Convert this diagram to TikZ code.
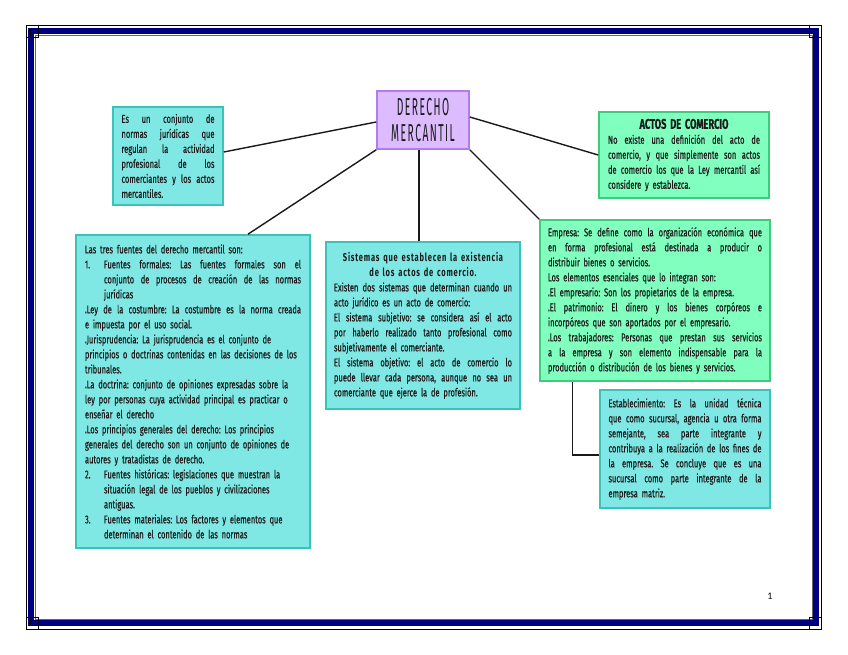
\documentclass[tikz,border=0pt]{standalone}
\usepackage{fontspec}
\setmainfont{Fira Sans}[FakeStretch=0.66,FakeBold=0.4]
\newfontfamily\titlefont{Fira Sans}[FakeStretch=0.42,LetterSpace=6]
\newfontfamily\spacedbold{Fira Sans}[FakeStretch=0.66,LetterSpace=7]
\newfontfamily\pagefont{Carlito}
\definecolor{cyanfill}{HTML}{80E8E4}
\definecolor{cyanline}{HTML}{3CC2B8}
\definecolor{greenfill}{HTML}{80FFBF}
\definecolor{greenline}{HTML}{3ECC7C}
\definecolor{lavfill}{HTML}{DDBBFF}
\definecolor{lavline}{HTML}{B27CF0}
\definecolor{navyband}{HTML}{000080}
\definecolor{txt}{HTML}{1A1A1A}
\frenchspacing
\newcommand\fillsp{\spaceskip=.22em plus 1fil\xspaceskip=.22em plus 1fil\relax}
\newcommand\J[1]{\leavevmode\hbox to\linewidth{\fillsp #1}}
\newcommand\Lf[1]{\leavevmode\hbox to\linewidth{#1\hfil}}
\newcommand\Cn[1]{\leavevmode\hbox to\linewidth{\hfil#1\hfil}}
\newcommand\dotb{\raisebox{-0.3ex}{\footnotesize\textbullet}}
\newcommand\ItemJ[2]{\leavevmode\hbox to 19pt{#1\hfil}\hbox to\dimexpr\linewidth-19pt\relax{\fillsp #2}}
\newcommand\ItemL[2]{\leavevmode\hbox to 19pt{#1\hfil}\hbox to\dimexpr\linewidth-19pt\relax{#2\hfil}}
\newcommand\ContJ[1]{\leavevmode\hspace*{19pt}\hbox to\dimexpr\linewidth-19pt\relax{\fillsp #1}}
\newcommand\ContL[1]{\leavevmode\hspace*{19pt}\hbox to\dimexpr\linewidth-19pt\relax{#1\hfil}}
\tikzset{
  box/.style={draw, line width=1.6pt, text=txt, inner sep=0pt, anchor=center,
    font=\fontsize{11.4}{15}\selectfont},
  cyanbox/.style={box, fill=cyanfill, draw=cyanline},
  greenbox/.style={box, fill=greenfill, draw=greenline},
  conn/.style={draw=black!90, line width=1.4pt},
}
\begin{document}
\begin{tikzpicture}[x=1pt,y=-1pt]
\useasboundingbox[fill=white] (0,0) rectangle (848,655);
% page frame
\draw[navyband, line width=6pt] (31,31) rectangle (816,623);
\draw[black, line width=0.6pt] (26,25) rectangle (821,629);
\draw[black!60, line width=0.4pt] (35,35) rectangle (812,619);
\foreach \cx/\cy/\sx/\sy in {26/25/1/1, 821/25/-1/1, 26/629/1/-1, 821/629/-1/-1}{
  \draw[black, line width=0.6pt] (\cx,\cy) rectangle ++(12*\sx,12*\sy);
  \draw[black, line width=0.6pt] (\cx+4*\sx,\cy+4*\sy) rectangle ++(8*\sx,8*\sy);
}
\node[font=\pagefont\fontsize{10}{12}\selectfont] (pg) at (770,596) {1};

% central node
\node[box, fill=lavfill, draw=lavline, minimum width=92pt, minimum height=58pt,
  align=center, font=\titlefont\fontsize{24.5}{26.5}\selectfont] (c) at (423,120)
  {DERECHO\\MERCANTIL};

% box 1
\node[cyanbox, minimum width=110pt, minimum height=98pt, text width=93pt] (b1) at (168,156)
{\J{Es un conjunto de}\\
\J{normas jurídicas que}\\
\J{regulan la actividad}\\
\J{profesional de los}\\
\J{comerciantes y los actos}\\
\Lf{mercantiles.}};

% actos de comercio
\node[greenbox, minimum width=170pt, minimum height=86pt, text width=152pt] (ac) at (684,155)
{\Cn{\fontsize{14}{15}\selectfont\bfseries ACTOS DE COMERCIO}\\
\J{No existe una definición del acto de}\\
\J{comercio, y que simplemente son actos}\\
\J{de comercio los que la Ley mercantil así}\\
\Lf{considere y establezca.}};

% left big box
\node[cyanbox, minimum width=234pt, minimum height=313pt, text width=216pt] (lf) at (193,391.5)
{\Lf{Las tres fuentes del derecho mercantil son:}\\
\ItemJ{1.}{Fuentes formales: Las fuentes formales son el}\\
\ContJ{conjunto de procesos de creación de las normas}\\
\ContL{jurídicas}\\
\J{\dotb Ley de la costumbre: La costumbre es la norma creada}\\
\Lf{e impuesta por el uso social.}\\
\Lf{\dotb Jurisprudencia: La jurisprudencia es el conjunto de}\\
\Lf{principios o doctrinas contenidas en las decisiones de los}\\
\Lf{tribunales.}\\
\Lf{\dotb La doctrina: conjunto de opiniones expresadas sobre la}\\
\Lf{ley por personas cuya actividad principal es practicar o}\\
\Lf{enseñar el derecho}\\
\Lf{\dotb Los principios generales del derecho: Los principios}\\
\Lf{generales del derecho son un conjunto de opiniones de}\\
\Lf{autores y tratadistas de derecho.}\\
\ItemL{2.}{Fuentes históricas: legislaciones que muestran la}\\
\ContL{situación legal de los pueblos y civilizaciones}\\
\ContL{antiguas.}\\
\ItemL{3.}{Fuentes materiales: Los factores y elementos que}\\
\ContL{determinan el contenido de las normas}};

% middle box
\node[cyanbox, minimum width=194pt, minimum height=167pt, text width=178pt] (md) at (423,325.5)
{\Cn{\spacedbold\bfseries Sistemas que establecen la existencia}\\
\Cn{\spacedbold\bfseries de los actos de comercio.}\\
\J{Existen dos sistemas que determinan cuando un}\\
\Lf{acto jurídico es un acto de comercio:}\\
\J{El sistema subjetivo: se considera así el acto}\\
\J{por haberlo realizado tanto profesional como}\\
\Lf{subjetivamente el comerciante.}\\
\J{El sistema objetivo: el acto de comercio lo}\\
\J{puede llevar cada persona, aunque no sea un}\\
\Lf{comerciante que ejerce la de profesión.}};

% empresa box
\node[greenbox, minimum width=230pt, minimum height=161pt, text width=214pt] (em) at (655,300.5)
{\J{Empresa: Se define como la organización económica que}\\
\J{en forma profesional está destinada a producir o}\\
\Lf{distribuir bienes o servicios.}\\
\Lf{Los elementos esenciales que lo integran son:}\\
\Lf{\dotb El empresario: Son los propietarios de la empresa.}\\
\J{\dotb El patrimonio: El dinero y los bienes corpóreos e}\\
\Lf{incorpóreos que son aportados por el empresario.}\\
\J{\dotb Los trabajadores: Personas que prestan sus servicios}\\
\J{a la empresa y son elemento indispensable para la}\\
\Lf{producción o distribución de los bienes y servicios.}};

% establecimiento box
\node[cyanbox, minimum width=170pt, minimum height=118pt, text width=153pt] (es) at (685,449)
{\J{Establecimiento: Es la unidad técnica}\\
\J{que como sucursal, agencia u otra forma}\\
\J{semejante, sea parte integrante y}\\
\J{contribuya a la realización de los fines de}\\
\J{la empresa. Se concluye que es una}\\
\J{sucursal como parte integrante de la}\\
\Lf{empresa matriz.}};

% connectors
\draw[conn] ([yshift=-2pt]c.west) -- ([yshift=4pt]b1.east);
\draw[conn] ([yshift=3pt]c.east) -- (ac.west);
\draw[conn] (c.south west) -- ([xshift=55pt]lf.north);
\draw[conn] ([xshift=-4pt]c.south) -- ([xshift=-4pt]md.north);
\draw[conn] (c.south east) -- (em.north west);
\draw[conn] ([xshift=33pt]em.south west) |- ([yshift=-6pt]es.west);
\end{tikzpicture}
\end{document}
